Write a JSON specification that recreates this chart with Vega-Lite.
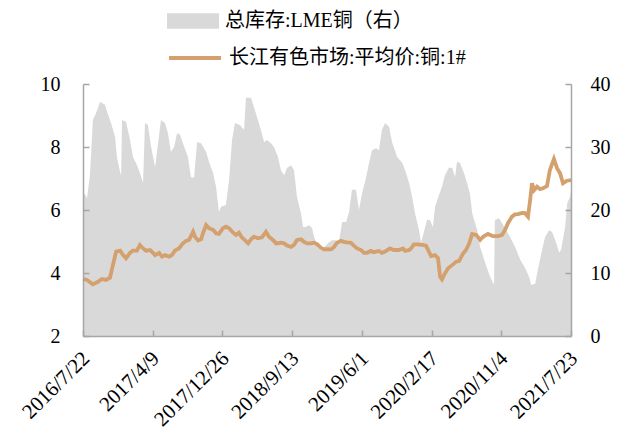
{
  "$schema": "https://vega.github.io/schema/vega-lite/v6.json",
  "width": 488,
  "height": 252,
  "autosize": {"type": "none"},
  "padding": {"left": 83, "top": 84, "right": 58, "bottom": 105},
  "background": "white",
  "config": {
    "view": {"stroke": null},
    "font": "Liberation Serif, Noto Sans CJK SC",
    "axis": {
      "domainColor": "#A6A6A6",
      "domainWidth": 1.5,
      "tickColor": "#A6A6A6",
      "tickWidth": 1.5,
      "tickSize": -6,
      "grid": false,
      "labelFont": "Liberation Serif",
      "labelColor": "#000000",
      "title": null
    }
  },
  "datasets": {
    "stock": [
      {"date": "2016-07-22", "v": 23.0},
      {"date": "2016-08-06", "v": 21.9},
      {"date": "2016-08-17", "v": 25.5},
      {"date": "2016-08-28", "v": 34.3},
      {"date": "2016-09-09", "v": 35.4},
      {"date": "2016-09-24", "v": 37.2},
      {"date": "2016-10-12", "v": 36.7},
      {"date": "2016-10-24", "v": 35.1},
      {"date": "2016-11-04", "v": 33.8},
      {"date": "2016-11-19", "v": 31.6},
      {"date": "2016-11-26", "v": 28.4},
      {"date": "2016-12-08", "v": 26.0},
      {"date": "2016-12-12", "v": 25.5},
      {"date": "2016-12-15", "v": 34.3},
      {"date": "2016-12-30", "v": 34.0},
      {"date": "2017-01-14", "v": 31.1},
      {"date": "2017-01-25", "v": 28.4},
      {"date": "2017-02-05", "v": 27.5},
      {"date": "2017-02-20", "v": 25.9},
      {"date": "2017-03-04", "v": 24.3},
      {"date": "2017-03-11", "v": 33.8},
      {"date": "2017-03-22", "v": 33.5},
      {"date": "2017-04-03", "v": 30.0},
      {"date": "2017-04-18", "v": 26.8},
      {"date": "2017-04-29", "v": 30.6},
      {"date": "2017-05-10", "v": 34.3},
      {"date": "2017-05-25", "v": 33.8},
      {"date": "2017-06-05", "v": 32.2},
      {"date": "2017-06-16", "v": 29.2},
      {"date": "2017-06-28", "v": 30.0},
      {"date": "2017-07-09", "v": 32.2},
      {"date": "2017-07-20", "v": 32.0},
      {"date": "2017-07-31", "v": 30.6},
      {"date": "2017-08-19", "v": 28.4},
      {"date": "2017-08-30", "v": 25.2},
      {"date": "2017-09-11", "v": 25.1},
      {"date": "2017-09-22", "v": 30.8},
      {"date": "2017-10-07", "v": 30.6},
      {"date": "2017-10-26", "v": 29.2},
      {"date": "2017-11-06", "v": 27.6},
      {"date": "2017-11-21", "v": 25.9},
      {"date": "2017-12-02", "v": 23.7},
      {"date": "2017-12-13", "v": 19.7},
      {"date": "2017-12-21", "v": 20.5},
      {"date": "2018-01-08", "v": 20.8},
      {"date": "2018-01-20", "v": 24.8},
      {"date": "2018-01-31", "v": 31.1},
      {"date": "2018-02-11", "v": 33.8},
      {"date": "2018-03-02", "v": 33.5},
      {"date": "2018-03-17", "v": 32.7},
      {"date": "2018-03-24", "v": 37.8},
      {"date": "2018-04-12", "v": 37.8},
      {"date": "2018-04-23", "v": 36.3},
      {"date": "2018-05-08", "v": 34.3},
      {"date": "2018-05-19", "v": 32.7},
      {"date": "2018-05-31", "v": 30.8},
      {"date": "2018-06-11", "v": 31.1},
      {"date": "2018-06-26", "v": 30.6},
      {"date": "2018-07-07", "v": 30.0},
      {"date": "2018-07-22", "v": 28.4},
      {"date": "2018-08-02", "v": 26.3},
      {"date": "2018-08-14", "v": 25.5},
      {"date": "2018-08-25", "v": 26.7},
      {"date": "2018-09-09", "v": 27.1},
      {"date": "2018-09-20", "v": 26.3},
      {"date": "2018-10-01", "v": 22.1},
      {"date": "2018-10-16", "v": 19.5},
      {"date": "2018-10-24", "v": 17.3},
      {"date": "2018-11-04", "v": 17.3},
      {"date": "2018-11-15", "v": 17.6},
      {"date": "2018-11-27", "v": 17.1},
      {"date": "2018-12-04", "v": 15.7},
      {"date": "2018-12-15", "v": 14.4},
      {"date": "2018-12-30", "v": 13.7},
      {"date": "2019-01-18", "v": 14.4},
      {"date": "2019-01-29", "v": 14.9},
      {"date": "2019-02-09", "v": 15.2},
      {"date": "2019-02-24", "v": 15.2},
      {"date": "2019-03-07", "v": 14.8},
      {"date": "2019-03-19", "v": 18.1},
      {"date": "2019-04-03", "v": 18.1},
      {"date": "2019-04-14", "v": 19.7},
      {"date": "2019-04-25", "v": 23.2},
      {"date": "2019-05-10", "v": 23.2},
      {"date": "2019-05-21", "v": 20.0},
      {"date": "2019-06-02", "v": 22.7},
      {"date": "2019-06-17", "v": 25.2},
      {"date": "2019-06-28", "v": 27.5},
      {"date": "2019-07-09", "v": 29.5},
      {"date": "2019-07-24", "v": 29.8},
      {"date": "2019-08-04", "v": 29.5},
      {"date": "2019-08-15", "v": 32.7},
      {"date": "2019-08-27", "v": 33.8},
      {"date": "2019-09-11", "v": 33.2},
      {"date": "2019-09-22", "v": 30.8},
      {"date": "2019-10-11", "v": 28.4},
      {"date": "2019-10-30", "v": 27.5},
      {"date": "2019-11-10", "v": 26.3},
      {"date": "2019-11-25", "v": 24.3},
      {"date": "2019-12-06", "v": 22.1},
      {"date": "2019-12-17", "v": 19.5},
      {"date": "2020-01-01", "v": 16.8},
      {"date": "2020-01-09", "v": 14.8},
      {"date": "2020-01-24", "v": 17.3},
      {"date": "2020-01-31", "v": 18.4},
      {"date": "2020-02-11", "v": 18.4},
      {"date": "2020-02-22", "v": 17.3},
      {"date": "2020-03-01", "v": 20.5},
      {"date": "2020-03-16", "v": 22.4},
      {"date": "2020-03-27", "v": 23.7},
      {"date": "2020-04-07", "v": 25.5},
      {"date": "2020-04-22", "v": 26.7},
      {"date": "2020-05-04", "v": 26.7},
      {"date": "2020-05-15", "v": 25.2},
      {"date": "2020-05-22", "v": 27.6},
      {"date": "2020-06-02", "v": 27.5},
      {"date": "2020-06-17", "v": 25.9},
      {"date": "2020-06-29", "v": 24.3},
      {"date": "2020-07-10", "v": 22.5},
      {"date": "2020-07-18", "v": 19.5},
      {"date": "2020-08-06", "v": 16.8},
      {"date": "2020-08-17", "v": 14.1},
      {"date": "2020-09-05", "v": 11.6},
      {"date": "2020-09-23", "v": 9.4},
      {"date": "2020-10-08", "v": 8.1},
      {"date": "2020-10-11", "v": 18.4},
      {"date": "2020-10-27", "v": 18.7},
      {"date": "2020-11-07", "v": 17.9},
      {"date": "2020-11-18", "v": 17.1},
      {"date": "2020-12-07", "v": 15.7},
      {"date": "2020-12-26", "v": 14.1},
      {"date": "2021-01-14", "v": 12.1},
      {"date": "2021-02-01", "v": 10.8},
      {"date": "2021-02-16", "v": 9.4},
      {"date": "2021-02-24", "v": 8.1},
      {"date": "2021-03-11", "v": 8.3},
      {"date": "2021-03-22", "v": 10.8},
      {"date": "2021-04-06", "v": 13.7},
      {"date": "2021-04-17", "v": 15.7},
      {"date": "2021-05-02", "v": 16.8},
      {"date": "2021-05-13", "v": 16.5},
      {"date": "2021-05-25", "v": 15.2},
      {"date": "2021-06-09", "v": 13.2},
      {"date": "2021-06-16", "v": 13.7},
      {"date": "2021-07-01", "v": 17.3},
      {"date": "2021-07-09", "v": 21.1},
      {"date": "2021-07-20", "v": 22.1},
      {"date": "2021-07-23", "v": 23.2}
    ],
    "price": [
      {"date": "2016-07-22", "p": 3.81},
      {"date": "2016-08-06", "p": 3.78},
      {"date": "2016-08-28", "p": 3.64},
      {"date": "2016-09-16", "p": 3.72},
      {"date": "2016-10-01", "p": 3.81},
      {"date": "2016-10-16", "p": 3.78},
      {"date": "2016-10-31", "p": 3.85},
      {"date": "2016-11-11", "p": 4.25},
      {"date": "2016-11-23", "p": 4.68},
      {"date": "2016-12-08", "p": 4.71},
      {"date": "2016-12-19", "p": 4.57},
      {"date": "2016-12-30", "p": 4.47},
      {"date": "2017-01-14", "p": 4.64},
      {"date": "2017-01-25", "p": 4.71},
      {"date": "2017-02-09", "p": 4.71},
      {"date": "2017-02-20", "p": 4.89},
      {"date": "2017-03-04", "p": 4.78},
      {"date": "2017-03-15", "p": 4.71},
      {"date": "2017-03-30", "p": 4.73},
      {"date": "2017-04-10", "p": 4.64},
      {"date": "2017-04-18", "p": 4.57},
      {"date": "2017-05-03", "p": 4.64},
      {"date": "2017-05-14", "p": 4.52},
      {"date": "2017-05-25", "p": 4.57},
      {"date": "2017-06-09", "p": 4.52},
      {"date": "2017-06-20", "p": 4.57},
      {"date": "2017-07-01", "p": 4.71},
      {"date": "2017-07-16", "p": 4.78},
      {"date": "2017-07-31", "p": 4.94},
      {"date": "2017-08-12", "p": 5.02},
      {"date": "2017-08-23", "p": 5.05},
      {"date": "2017-09-07", "p": 5.31},
      {"date": "2017-09-14", "p": 5.15},
      {"date": "2017-09-26", "p": 5.03},
      {"date": "2017-10-07", "p": 5.07},
      {"date": "2017-10-14", "p": 5.26},
      {"date": "2017-10-26", "p": 5.52},
      {"date": "2017-11-06", "p": 5.42},
      {"date": "2017-11-21", "p": 5.37},
      {"date": "2017-12-02", "p": 5.26},
      {"date": "2017-12-13", "p": 5.24},
      {"date": "2017-12-28", "p": 5.42},
      {"date": "2018-01-08", "p": 5.47},
      {"date": "2018-01-20", "p": 5.42},
      {"date": "2018-02-04", "p": 5.28},
      {"date": "2018-02-15", "p": 5.21},
      {"date": "2018-02-26", "p": 5.28},
      {"date": "2018-03-09", "p": 5.13},
      {"date": "2018-03-17", "p": 5.07},
      {"date": "2018-04-01", "p": 4.94},
      {"date": "2018-04-12", "p": 5.07},
      {"date": "2018-04-23", "p": 5.15},
      {"date": "2018-05-08", "p": 5.10},
      {"date": "2018-05-23", "p": 5.13},
      {"date": "2018-06-07", "p": 5.31},
      {"date": "2018-06-18", "p": 5.15},
      {"date": "2018-07-03", "p": 5.05},
      {"date": "2018-07-15", "p": 4.94},
      {"date": "2018-08-02", "p": 4.96},
      {"date": "2018-08-14", "p": 4.94},
      {"date": "2018-08-25", "p": 4.87},
      {"date": "2018-09-09", "p": 4.83},
      {"date": "2018-09-20", "p": 4.89},
      {"date": "2018-10-01", "p": 5.05},
      {"date": "2018-10-16", "p": 5.07},
      {"date": "2018-10-27", "p": 4.99},
      {"date": "2018-11-08", "p": 4.94},
      {"date": "2018-11-23", "p": 4.94},
      {"date": "2018-12-04", "p": 4.96},
      {"date": "2018-12-15", "p": 4.92},
      {"date": "2018-12-30", "p": 4.80},
      {"date": "2019-01-10", "p": 4.75},
      {"date": "2019-01-22", "p": 4.76},
      {"date": "2019-02-06", "p": 4.75},
      {"date": "2019-02-17", "p": 4.83},
      {"date": "2019-02-28", "p": 4.96},
      {"date": "2019-03-15", "p": 5.02},
      {"date": "2019-03-26", "p": 4.99},
      {"date": "2019-04-06", "p": 4.97},
      {"date": "2019-04-21", "p": 4.96},
      {"date": "2019-05-03", "p": 4.86},
      {"date": "2019-05-14", "p": 4.78},
      {"date": "2019-05-29", "p": 4.73},
      {"date": "2019-06-09", "p": 4.64},
      {"date": "2019-06-20", "p": 4.64},
      {"date": "2019-07-05", "p": 4.70},
      {"date": "2019-07-16", "p": 4.66},
      {"date": "2019-08-04", "p": 4.70},
      {"date": "2019-08-15", "p": 4.64},
      {"date": "2019-08-27", "p": 4.68},
      {"date": "2019-09-14", "p": 4.78},
      {"date": "2019-09-29", "p": 4.73},
      {"date": "2019-10-18", "p": 4.73},
      {"date": "2019-11-02", "p": 4.78},
      {"date": "2019-11-10", "p": 4.70},
      {"date": "2019-11-25", "p": 4.73},
      {"date": "2019-12-02", "p": 4.78},
      {"date": "2019-12-13", "p": 4.91},
      {"date": "2019-12-25", "p": 4.91},
      {"date": "2020-01-13", "p": 4.89},
      {"date": "2020-01-27", "p": 4.87},
      {"date": "2020-02-07", "p": 4.68},
      {"date": "2020-02-15", "p": 4.54},
      {"date": "2020-03-01", "p": 4.57},
      {"date": "2020-03-12", "p": 4.47},
      {"date": "2020-03-20", "p": 3.88},
      {"date": "2020-03-27", "p": 3.80},
      {"date": "2020-04-07", "p": 3.99},
      {"date": "2020-04-19", "p": 4.15},
      {"date": "2020-05-04", "p": 4.25},
      {"date": "2020-05-19", "p": 4.36},
      {"date": "2020-05-30", "p": 4.38},
      {"date": "2020-06-14", "p": 4.62},
      {"date": "2020-06-25", "p": 4.73},
      {"date": "2020-07-07", "p": 4.94},
      {"date": "2020-07-18", "p": 5.24},
      {"date": "2020-08-02", "p": 5.21},
      {"date": "2020-08-17", "p": 5.05},
      {"date": "2020-08-28", "p": 5.15},
      {"date": "2020-09-15", "p": 5.24},
      {"date": "2020-10-04", "p": 5.17},
      {"date": "2020-10-23", "p": 5.17},
      {"date": "2020-11-07", "p": 5.21},
      {"date": "2020-11-18", "p": 5.37},
      {"date": "2020-11-29", "p": 5.58},
      {"date": "2020-12-14", "p": 5.79},
      {"date": "2020-12-25", "p": 5.86},
      {"date": "2021-01-06", "p": 5.87},
      {"date": "2021-01-21", "p": 5.91},
      {"date": "2021-02-01", "p": 5.90},
      {"date": "2021-02-12", "p": 5.79},
      {"date": "2021-02-20", "p": 6.32},
      {"date": "2021-02-27", "p": 6.85},
      {"date": "2021-03-07", "p": 6.63},
      {"date": "2021-03-18", "p": 6.74},
      {"date": "2021-03-29", "p": 6.66},
      {"date": "2021-04-09", "p": 6.69},
      {"date": "2021-04-24", "p": 6.76},
      {"date": "2021-05-05", "p": 7.27},
      {"date": "2021-05-20", "p": 7.62},
      {"date": "2021-06-01", "p": 7.32},
      {"date": "2021-06-12", "p": 7.17},
      {"date": "2021-06-23", "p": 6.85},
      {"date": "2021-07-08", "p": 6.93},
      {"date": "2021-07-23", "p": 6.95}
    ]
  },
  "layer": [
    {
      "data": {"name": "stock"},
      "mark": {"type": "area", "interpolate": "linear"},
      "encoding": {
        "x": {
          "field": "date",
          "type": "temporal",
          "scale": {"type": "utc", "domain": [{"year": 2016, "month": 7, "date": 22, "utc": true}, {"year": 2021, "month": 7, "date": 23, "utc": true}], "nice": false},
          "axis": {
            "zindex": 2,
            "values": [
              {"year": 2016, "month": 7, "date": 22, "utc": true},
              {"year": 2017, "month": 4, "date": 9, "utc": true},
              {"year": 2017, "month": 12, "date": 26, "utc": true},
              {"year": 2018, "month": 9, "date": 13, "utc": true},
              {"year": 2019, "month": 6, "date": 1, "utc": true},
              {"year": 2020, "month": 2, "date": 17, "utc": true},
              {"year": 2020, "month": 11, "date": 4, "utc": true},
              {"year": 2021, "month": 7, "date": 23, "utc": true}
            ],
            "format": "%Y/%-m/%-d",
            "labelAngle": -45,
            "labelAlign": "right",
            "labelBaseline": "middle",
            "labelFontSize": 21,
            "labelPadding": 25,
            "labelOffset": 3,
            "labelOverlap": false,
            "labelBound": false,
            "labelFlush": false
          }
        },
        "y": {
          "field": "v",
          "type": "quantitative",
          "scale": {"domain": [0, 40], "nice": false, "zero": true},
          "axis": {
            "zindex": 2,
            "orient": "right",
            "values": [0, 10, 20, 30, 40],
            "labelFontSize": 20,
            "labelPadding": 25,
            "labelAlign": "left"
          }
        },
        "fill": {
          "datum": "总库存:LME铜（右）",
          "type": "nominal",
          "scale": {"range": ["#D9D9D9"]},
          "legend": {
            "orient": "none",
            "legendX": 84,
            "legendY": -89,
            "title": null,
            "symbolType": "M-1,-0.3H1V0.3H-1Z",
            "symbolSize": 2704,
            "symbolStrokeWidth": 0,
            "labelFontSize": 20,
            "labelFont": "Liberation Serif, Noto Sans CJK SC",
            "labelLimit": 400,
            "labelOffset": 6
          }
        }
      }
    },
    {
      "data": {"name": "price"},
      "mark": {"type": "line", "strokeWidth": 3.8, "interpolate": "linear"},
      "encoding": {
        "x": {"field": "date", "type": "temporal"},
        "y": {
          "field": "p",
          "type": "quantitative",
          "scale": {"domain": [2, 10], "nice": false, "zero": false},
          "axis": {
            "zindex": 2,
            "orient": "left",
            "values": [2, 4, 6, 8, 10],
            "labelFontSize": 20,
            "labelPadding": 29
          }
        },
        "stroke": {
          "datum": "长江有色市场:平均价:铜:1#",
          "type": "nominal",
          "scale": {"range": ["#D4A06E"]},
          "legend": {
            "orient": "none",
            "legendX": 84,
            "legendY": -54,
            "title": null,
            "symbolType": "stroke",
            "symbolSize": 2704,
            "symbolStrokeWidth": 4,
            "labelFontSize": 20,
            "labelFont": "Liberation Serif, Noto Sans CJK SC",
            "labelLimit": 400,
            "labelOffset": 6
          }
        }
      }
    }
  ],
  "resolve": {"scale": {"y": "independent", "fill": "independent", "stroke": "independent"}}
}
